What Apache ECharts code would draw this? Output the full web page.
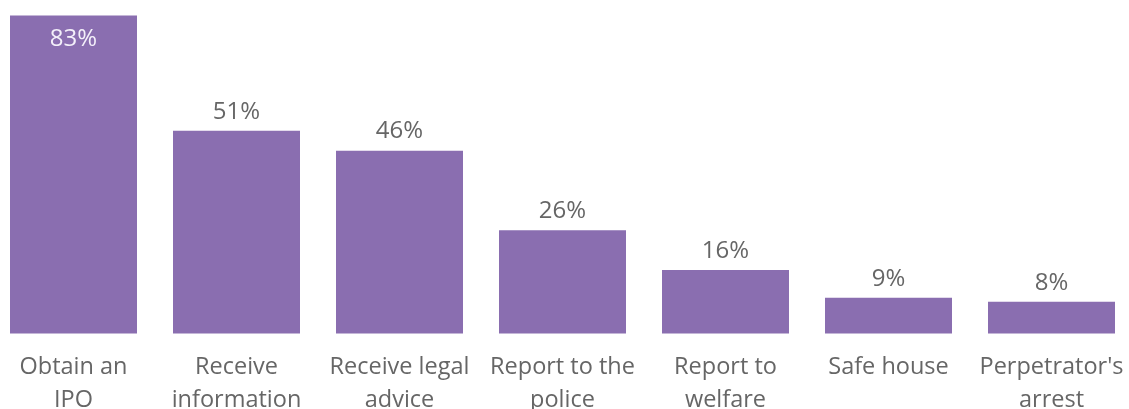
<!DOCTYPE html>
<html>
<head>
<meta charset="utf-8">
<script src="https://cdn.jsdelivr.net/npm/echarts@6/dist/echarts.min.js"></script>
<style>
  html, body { margin: 0; padding: 0; background: #ffffff; }
  #chart { width: 1129px; height: 409px; }
</style>
</head>
<body>
<div id="chart"></div>
<script>
// Support services sought, share of respondents (%)
const categories = [
  'Obtain an\nIPO',
  'Receive\ninformation',
  'Receive legal\nadvice',
  'Report to the\npolice',
  'Report to\nwelfare',
  'Safe house',
  "Perpetrator's\narrest"
];
const shares = [83, 51, 46, 26, 16, 9, 8];

const FONT = '"Open Sans", "Noto Sans", sans-serif';
const BAR = '#8a6eb0';

const chart = echarts.init(document.getElementById('chart'), null, { renderer: 'canvas' });

chart.setOption({
  animation: false,
  backgroundColor: '#ffffff',
  grid: {
    left: -8, right: -4, top: 15.5, bottom: 75.5,
    containLabel: false,
    outerBoundsMode: 'none'
  },
  xAxis: {
    type: 'category',
    data: categories,
    axisLine: { show: false },
    axisTick: { show: false },
    axisLabel: {
      interval: 0,
      margin: 17,
      color: '#666666',
      fontFamily: FONT,
      fontSize: 23.5,
      lineHeight: 33
    }
  },
  yAxis: {
    type: 'value',
    min: 0,
    max: 80,
    show: false,
    splitLine: { show: false }
  },
  series: [{
    type: 'bar',
    data: shares.map((v, i) => ({
      value: v,
      label: i === 0
        ? { position: 'insideTop', distance: 12, color: '#f4f0fa' }
        : { position: 'top', distance: 7, color: '#666666' }
    })),
    barWidth: 127,
    clip: true,
    itemStyle: { color: BAR },
    label: {
      show: true,
      fontFamily: FONT,
      fontSize: 24,
      formatter: p => p.value + '%'
    }
  }]
});
</script>
</body>
</html>
